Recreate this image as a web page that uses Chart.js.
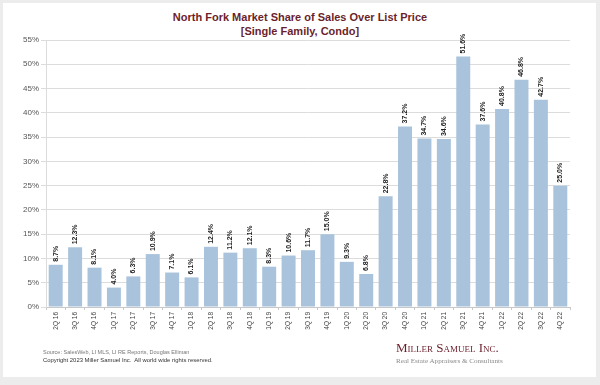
<!DOCTYPE html>
<html>
<head>
<meta charset="utf-8">
<script src="https://cdn.jsdelivr.net/npm/chart.js@4"></script>
<style>
  html, body { margin: 0; padding: 0; }
  body { width: 600px; height: 385px; background: #ececec; position: relative; overflow: hidden; font-family: "Liberation Sans", Arial, sans-serif; }
  #card { position: absolute; left: 3px; top: 3px; width: 593px; height: 374px; background: #ffffff; }
  #wrap { position: absolute; left: 0; top: 0; width: 600px; height: 385px; }
  .title { position: absolute; left: 0; width: 600px; text-align: center; color: #6b1f2c; font-weight: bold; font-size: 11px; white-space: nowrap; }
  .foot { position: absolute; left: 43px; white-space: nowrap; }
  #logo1 { position: absolute; left: 396px; top: 340px; font-family: "Liberation Serif", "DejaVu Serif", serif; font-variant: small-caps; color: #6b1f2c; font-size: 13px; white-space: nowrap; }
  #logo2 { position: absolute; left: 396px; top: 357px; font-family: "Liberation Serif", "DejaVu Serif", serif; color: #8a8a8a; font-size: 7.1px; white-space: nowrap; }
</style>
</head>
<body>
<div id="card"></div>
<div class="title" style="top:11px;">North Fork Market Share of Sales Over List Price</div>
<div class="title" style="top:25px;">[Single Family, Condo]</div>
<div id="wrap"><canvas id="c" width="600" height="385"></canvas></div>
<div class="foot" style="top:349px; font-size:5.5px; color:#777;">Source: SalesWeb, LI MLS, LI RE Reports, Douglas Elliman</div>
<div class="foot" style="top:357px; font-size:5.9px; color:#333;">Copyright 2023 Miller Samuel Inc.&nbsp; All world wide rights reserved.</div>
<div id="logo1">Miller Samuel Inc.</div>
<div id="logo2">Real Estate Appraisers &amp; Consultants</div>
<script>
const quarters = ["2Q 16","3Q 16","4Q 16","1Q 17","2Q 17","3Q 17","4Q 17","1Q 18","2Q 18","3Q 18","4Q 18","1Q 19","2Q 19","3Q 19","4Q 19","1Q 20","2Q 20","3Q 20","4Q 20","1Q 21","2Q 21","3Q 21","4Q 21","1Q 22","2Q 22","3Q 22","4Q 22"];
const shareOverList = [8.7,12.3,8.1,4.0,6.3,10.9,7.1,6.1,12.4,11.2,12.1,8.3,10.6,11.7,15.0,9.3,6.8,22.8,37.2,34.7,34.6,51.6,37.6,40.8,46.8,42.7,25.0];
const yMin = 0, yMax = 55, yStep = 5;

const valueLabels = {
  id: 'valueLabels',
  afterDatasetsDraw(chart) {
    const ctx = chart.ctx;
    const meta = chart.getDatasetMeta(0);
    ctx.save();
    ctx.font = 'bold 7px "Liberation Sans", Arial, sans-serif';
    ctx.fillStyle = '#222';
    ctx.textAlign = 'left';
    ctx.textBaseline = 'middle';
    meta.data.forEach((bar, i) => {
      ctx.save();
      ctx.translate(bar.x, bar.y - 3);
      ctx.rotate(-Math.PI / 2);
      ctx.fillText(shareOverList[i].toFixed(1) + '%', 0, 0);
      ctx.restore();
    });
    ctx.restore();
  }
};

new Chart(document.getElementById('c'), {
  type: 'bar',
  data: {
    labels: quarters,
    datasets: [{
      data: shareOverList,
      backgroundColor: '#a8c3db',
      borderWidth: 0,
      barPercentage: 0.72,
      categoryPercentage: 1.0
    }]
  },
  options: {
    responsive: false,
    animation: false,
    devicePixelRatio: 1,
    layout: { padding: { left: 0, right: 30, top: 40, bottom: 0 } },
    plugins: { legend: { display: false }, tooltip: { enabled: false }, title: { display: false } },
    scales: {
      x: {
        offset: true,
        grid: { display: true, drawOnChartArea: false, offset: true, tickLength: 3, color: '#c8c8c8' },
        border: { display: true, color: '#c8c8c8' },
        ticks: {
          autoSkip: false, minRotation: 90, maxRotation: 90, padding: 2,
          color: '#444', font: { size: 6.5, family: '"Liberation Sans", Arial, sans-serif' }
        },
        afterFit(scale) { scale.height = 78; }
      },
      y: {
        min: yMin, max: yMax,
        grid: { color: '#dcdcdc', tickLength: 5, drawTicks: true },
        border: { display: true, color: '#dcdcdc' },
        ticks: {
          stepSize: yStep, padding: 2, color: '#555',
          font: { size: 8, family: '"Liberation Sans", Arial, sans-serif' },
          callback: v => v + '%'
        },
        afterFit(scale) { scale.width = 46; }
      }
    }
  },
  plugins: [valueLabels]
});
</script>
</body>
</html>
